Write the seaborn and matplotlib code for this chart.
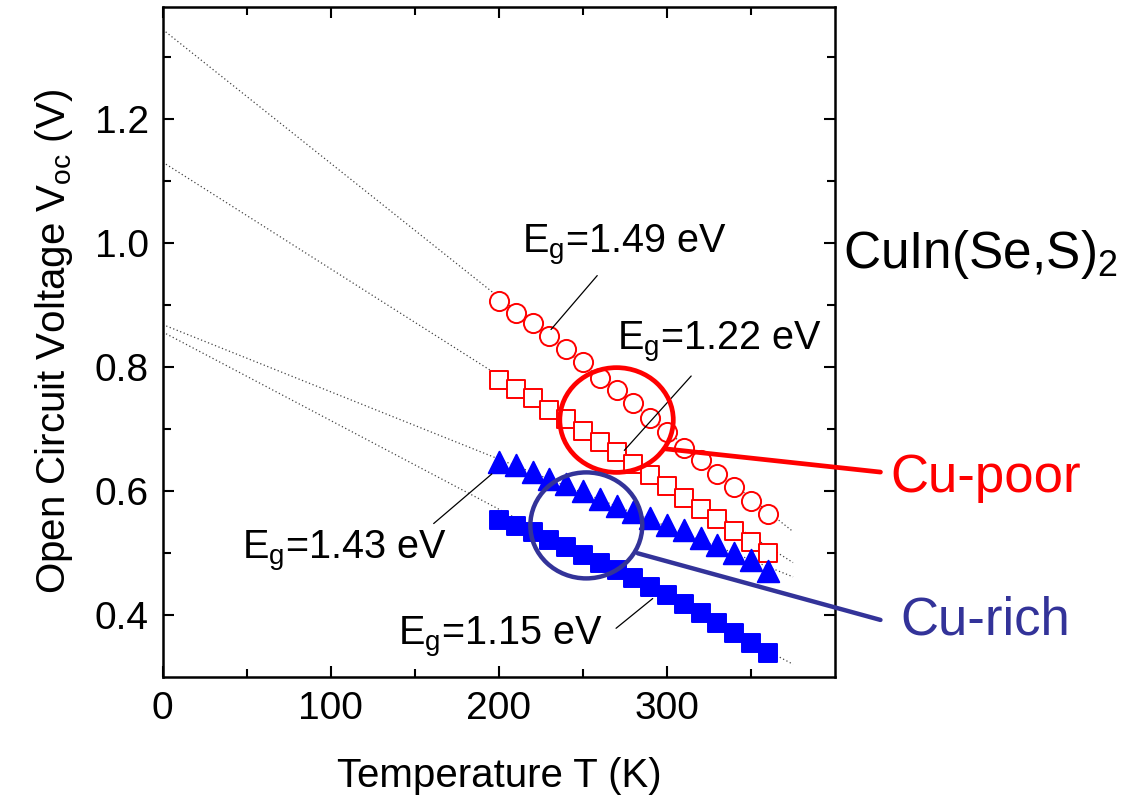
import numpy as np
import pandas as pd
import matplotlib
matplotlib.use("Agg")
import matplotlib.pyplot as plt
from matplotlib.patches import Ellipse
import seaborn as sns

# Data (T in K, Voc in V)
temps = [200, 210, 220, 230, 240, 250, 260, 270, 280, 290, 300, 310, 320, 330, 340, 350, 360]
voc_poor_149 = [0.906, 0.887, 0.870, 0.850, 0.828, 0.807, 0.782, 0.762, 0.742, 0.718, 0.694,
                0.669, 0.650, 0.627, 0.606, 0.584, 0.563]
voc_poor_122 = [0.779, 0.764, 0.749, 0.730, 0.715, 0.697, 0.678, 0.662, 0.643, 0.625, 0.608,
                0.588, 0.571, 0.554, 0.535, 0.518, 0.500]
voc_rich_143 = [0.647, 0.641, 0.630, 0.619, 0.611, 0.599, 0.587, 0.576, 0.566, 0.556, 0.544,
                0.536, 0.523, 0.513, 0.500, 0.488, 0.470]
voc_rich_115 = [0.552, 0.543, 0.533, 0.521, 0.509, 0.496, 0.484, 0.472, 0.459, 0.445, 0.432,
                0.417, 0.403, 0.386, 0.370, 0.354, 0.338]

# Linear extrapolation lines: Voc at T=0 and at the end T
fit_T = [0, 375]
fit_poor_149 = [1.344, 0.534]
fit_poor_122 = [1.130, 0.484]
fit_rich_143 = [0.868, 0.461]
fit_rich_115 = [0.856, 0.320]

eg_labels = ["1.49", "1.22", "1.43", "1.15"]

RED = "#ff0000"
BLUE = "#0000ff"
NAVY = "#333399"

sns.set_style("ticks")
plt.rcParams["font.family"] = ["Liberation Sans", "DejaVu Sans"]
plt.rcParams["mathtext.fontset"] = "custom"
plt.rcParams["mathtext.rm"] = "Liberation Sans"
for key in ["text.color", "axes.labelcolor", "xtick.color", "ytick.color", "axes.edgecolor"]:
    plt.rcParams[key] = "black"

fig, ax = plt.subplots(figsize=(11.3, 7.97), dpi=100)
fig.subplots_adjust(left=0.144, right=0.739, bottom=0.151, top=0.991)

# dotted extrapolation lines
for fv in [fit_poor_149, fit_poor_122, fit_rich_143, fit_rich_115]:
    sns.lineplot(x=fit_T, y=fv, ax=ax, color="#444444", linewidth=0.9,
                 linestyle=(0, (1, 2)), zorder=1)

# marker sizes as scatter areas (pt^2); open symbols have a white fill
series = [
    (voc_poor_149, "o", "white", RED, 190),
    (voc_poor_122, "s", "white", RED, 175),
    (voc_rich_143, "^", BLUE, BLUE, 240),
    (voc_rich_115, "s", BLUE, BLUE, 175),
]
for v, mk, fc, ec, area in series:
    df = pd.DataFrame({"T": temps, "V": v})
    sns.scatterplot(data=df, x="T", y="V", ax=ax, marker=mk, s=area,
                    facecolors=fc, edgecolors=ec, linewidths=1.4, zorder=3)

ax.set_xlim(0, 400)
ax.set_ylim(0.30, 1.38)
ax.set_xticks([0, 100, 200, 300])
ax.set_xticks([50, 150, 250, 350], minor=True)
ax.set_yticks([0.4, 0.6, 0.8, 1.0, 1.2])
ax.set_yticks([0.5, 0.7, 0.9, 1.1, 1.3], minor=True)
ax.tick_params(which="both", direction="in", top=True, right=True, width=1.5,
               labelsize=28, pad=10, colors="black")
ax.tick_params(which="major", length=8)
ax.tick_params(which="minor", length=6)
for sp in ax.spines.values():
    sp.set_linewidth(1.8)
    sp.set_color("black")

ax.set_xlabel("Temperature T (K)", fontsize=29, labelpad=22)
ax.set_ylabel(r"Open Circuit Voltage V$_\mathregular{oc}$ (V)", fontsize=29, labelpad=14)

# Eg labels with leader lines
eg_text_pos = [(214, 0.997), (270, 0.841), (47, 0.5035), (140, 0.364)]
eg_lines = [((231, 0.860), (258.5, 0.947)),
            ((274.6, 0.665), (314.4, 0.785)),
            ((161.2, 0.547), (195.8, 0.627)),
            ((269.7, 0.378), (291.5, 0.426))]
for lab, (tx, ty), (p0, p1) in zip(eg_labels, eg_text_pos, eg_lines):
    ax.text(tx, ty, r"E$_\mathregular{g}$=" + lab + " eV", fontsize=28.5,
            ha="left", va="center", zorder=5)
    ax.plot([p0[0], p1[0]], [p0[1], p1[1]], color="black", linewidth=0.9, zorder=4)

# group highlight circles and pointer lines
ax.add_patch(Ellipse((270, 0.714), 67.5, 0.169, fill=False, edgecolor=RED,
                     linewidth=3.4, zorder=4))
ax.add_patch(Ellipse((252, 0.544), 66.6, 0.171, fill=False, edgecolor=NAVY,
                     linewidth=3.2, zorder=4))
ax.plot([299, 427], [0.6675, 0.630], color=RED, linewidth=3.4, clip_on=False, zorder=4)
ax.plot([282.6, 427], [0.499, 0.3915], color=NAVY, linewidth=3.2, clip_on=False, zorder=4)

ax.text(433, 0.621, "Cu-poor", color=RED, fontsize=38, ha="left", va="center",
        clip_on=False)
ax.text(439, 0.390, "Cu-rich", color=NAVY, fontsize=38, ha="left", va="center",
        clip_on=False)
ax.text(405, 0.981, r"CuIn(Se,S)$_\mathregular{2}$", color="black", fontsize=37,
        ha="left", va="center", clip_on=False)

fig.savefig("out.png", dpi=100)
